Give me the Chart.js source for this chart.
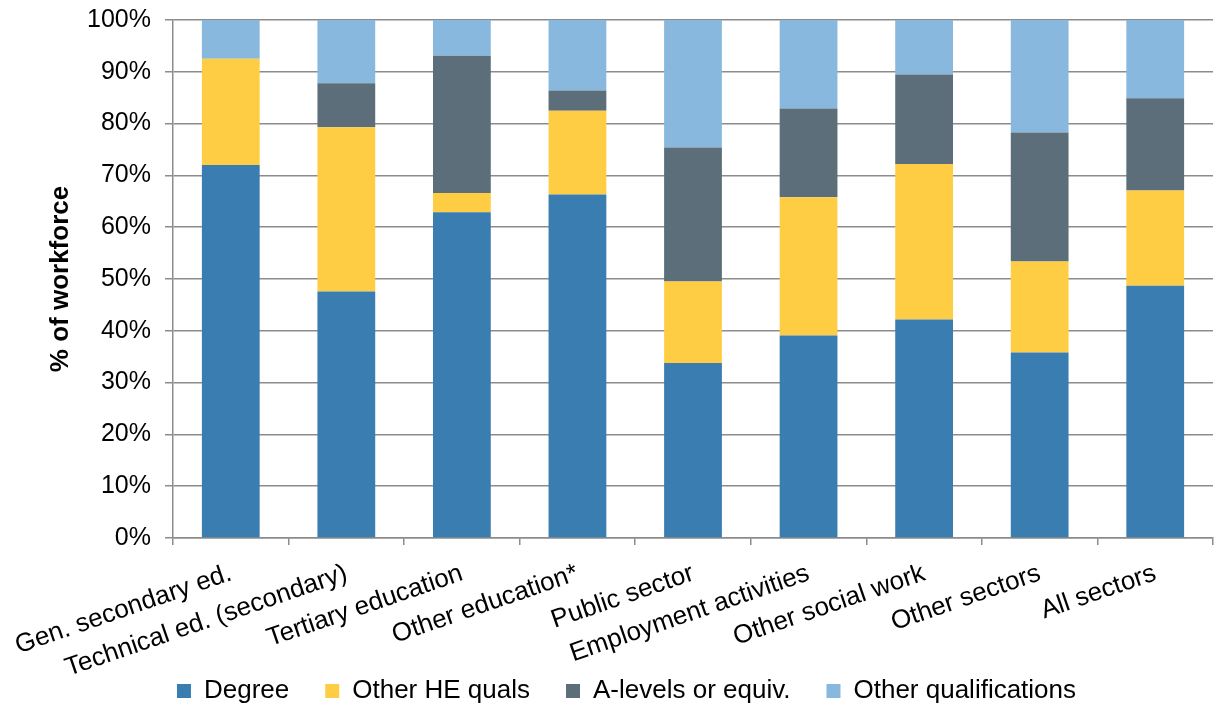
<!DOCTYPE html>
<html>
<head>
<meta charset="utf-8">
<script src="https://cdn.jsdelivr.net/npm/chart.js@4/dist/chart.umd.min.js"></script>
<style>
  html, body { margin:0; padding:0; background:#fff; }
  #wrap { width:1219px; height:709px; }
</style>
</head>
<body>
<div id="wrap"><canvas id="qualChart" width="1219" height="709"></canvas></div>
<script>
// DATA
const sectors = ["Gen. secondary ed.", "Technical ed. (secondary)", "Tertiary education", "Other education*",
  "Public sector", "Employment activities", "Other social work", "Other sectors", "All sectors"];
const degree    = [72.0, 47.6, 62.9, 66.3, 33.8, 39.1, 42.2, 35.8, 48.7];
const otherHE   = [20.5, 31.7, 3.7, 16.2, 15.7, 26.7, 30.0, 17.6, 18.4];
const aLevels   = [0.0, 8.5, 26.5, 3.9, 25.9, 17.1, 17.3, 24.9, 17.8];
const otherQual = [7.5, 12.2, 6.9, 13.6, 24.6, 17.1, 10.5, 21.7, 15.1];
const yTicks = [0, 10, 20, 30, 40, 50, 60, 70, 80, 90, 100];

const FONT = "'Liberation Sans', Arial, sans-serif";
Chart.defaults.font.family = FONT;
Chart.defaults.color = '#000';

function ds(label, data, color){
  return { label, data, backgroundColor: color, borderWidth: 0, barPercentage: 0.5, categoryPercentage: 1.0 };
}

new Chart(document.getElementById('qualChart'), {
  type: 'bar',
  data: {
    labels: sectors,
    datasets: [
      ds('Degree', degree, '#3a7db0'),
      ds('Other HE quals', otherHE, '#ffcd44'),
      ds('A-levels or equiv.', aLevels, '#5c6e7a'),
      ds('Other qualifications', otherQual, '#88b8dd')
    ]
  },
  options: {
    responsive: false,
    animation: false,
    layout: { padding: { left: 40, right: 6, top: 20, bottom: -5 } },
    plugins: {
      tooltip: { enabled: false },
      legend: {
        position: 'bottom',
        labels: { font: { size: 26 }, boxWidth: 14, boxHeight: 14, padding: 36 }
      }
    },
    scales: {
      x: {
        stacked: true,
        afterFit: s => {
          s.height = 104;
          s.paddingLeft = 0; s.paddingRight = 0;
          s._computeLabelArea = () => undefined; // let rotated labels run past the axis box
        },
        grid: { offset: true, drawOnChartArea: false, drawTicks: true, tickLength: 7, color: '#8c8c8c', lineWidth: 1.5 },
        border: { color: '#8c8c8c', width: 1.5 },
        ticks: { font: { size: 26 }, minRotation: 19, maxRotation: 19, autoSkip: false, padding: 13 }
      },
      y: {
        stacked: true,
        min: 0, max: 100,
        afterFit: s => { s.width = 133; s.paddingTop = 0; s.paddingBottom = 0; },
        afterBuildTicks: axis => { axis.ticks = yTicks.map(v => ({ value: v })); },
        grid: { color: '#8c8c8c', lineWidth: 1.5, drawTicks: true, tickLength: 8 },
        border: { color: '#8c8c8c', width: 1.5 },
        ticks: { font: { size: 25 }, padding: 14, callback: v => v + '%' },
        title: { display: true, text: '% of workforce', font: { size: 26, weight: 'bold' }, padding: { top: 5, bottom: 8 } }
      }
    }
  }
});
</script>
</body>
</html>
